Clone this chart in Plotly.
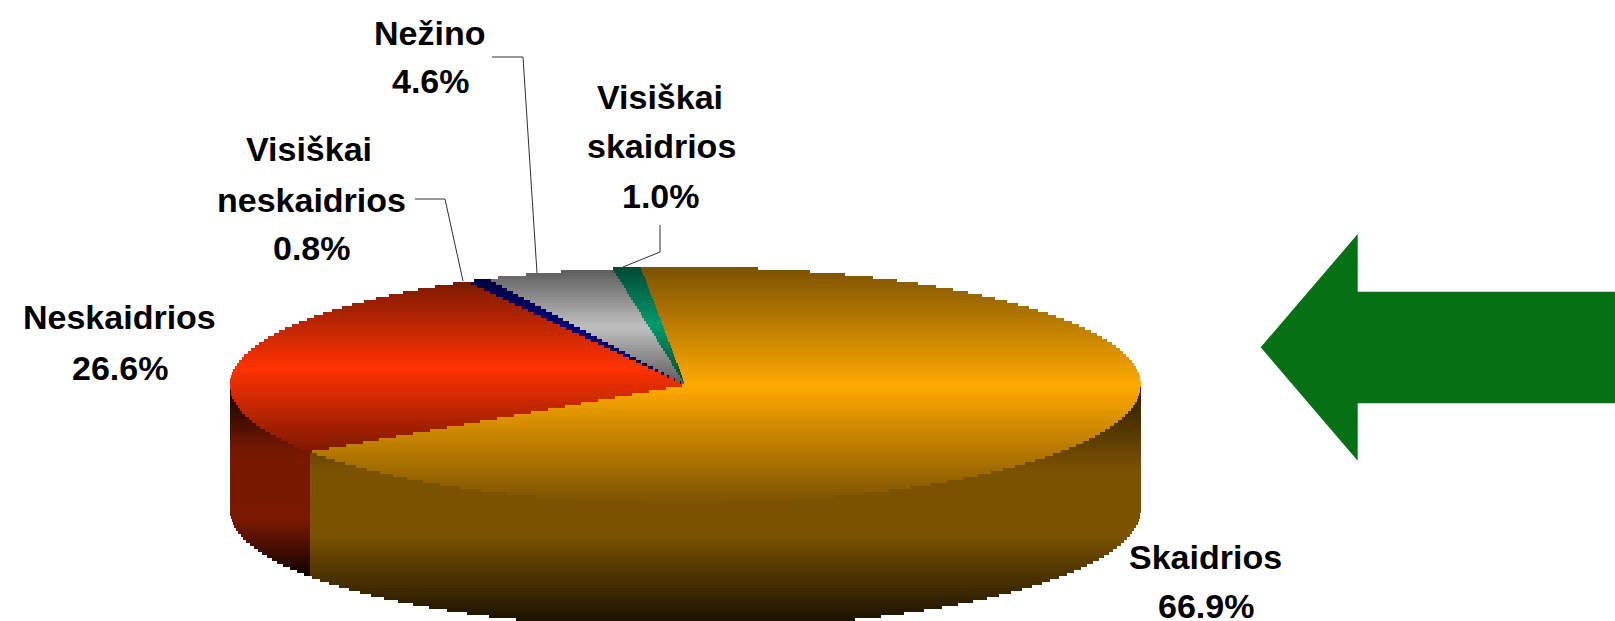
import numpy as np
import plotly.graph_objects as go

# ---- data ----
categories = ["Skaidrios", "Neskaidrios", "Visiškai neskaidrios", "Nežino", "Visiškai skaidrios"]
values = [66.9, 26.6, 0.8, 4.6, 1.0]
label_lines = [["Skaidrios"], ["Neskaidrios"], ["Visiškai", "neskaidrios"], ["Nežino"], ["Visiškai", "skaidrios"]]
slice_colors = [(255, 170, 0), (255, 51, 0), (0, 0, 128), (192, 192, 192), (0, 153, 107)]

# ---- layout of the tilted pie ----
W, H = 1615, 621
CX, CY, RX, RY, DEPTH = 685.3, 385.0, 455.4, 118.0, 125.0
START_DEG = -5.6
ROW = 3
EDGE_SHADE = 0.48
side_stops = {
    0: ([390, 470, 535, 627], [0.18, 0.48, 0.48, 0.08]),
    1: ([397, 450, 520, 578], [0.12, 0.46, 0.48, 0.04]),
}
label_pos = {
    0: [(1205, 557), (1206, 606)],
    1: [(119.5, 317), (119.5, 368)],
    2: [(309, 149), (311, 200), (312, 248)],
    3: [(429.5, 33), (430.5, 81)],
    4: [(660, 97), (661, 146), (661, 196)],
}
leaders = [
    [(415, 199), (445, 199), (463, 281)],
    [(492, 57), (523, 57), (537, 273)],
    [(660, 225), (660, 252), (623, 267)],
]
ARROW_COLOR = "#067014"
arrow_path = "M1260.7,347.3 L1357.7,234 L1357.7,291.7 L1615,291.7 L1615,403.3 L1357.7,403.3 L1357.7,460.7 Z"

# ---- slice boundaries come from the values ----
cum = np.concatenate([[0], np.cumsum(values)]) / np.sum(values) * 360.0


def slice_index(u, v):
    t = np.degrees(np.arctan2(u, -v))
    return np.clip(np.searchsorted(cum, (t - START_DEG) % 360.0, side="right") - 1, 0, len(values) - 1)


x_px = np.arange(int(CX - RX), int(CX + RX) + 2)
rows = np.arange(267, H, ROW)
top_rows = []
for y0 in rows:
    yc = y0 + ROW / 2
    u = (x_px + 0.5 - CX) / RX
    v = (yc - CY) / RY
    inside = u * u + v * v <= 1.0
    idx = slice_index(u, np.full_like(u, v))
    top_rows.append((y0, inside, idx))

# vertical extent of each slice on the top face
extent = {}
for y0, inside, idx in top_rows:
    for s in np.unique(idx[inside]):
        lo, hi = extent.get(int(s), (y0, y0 + ROW))
        extent[int(s)] = (min(lo, y0), max(hi, y0 + ROW))

polys = {}


def add_runs(mask, y0, color):
    if not mask.any():
        return
    m = np.concatenate([[0], mask.astype(int), [0]])
    d = np.diff(m)
    for a, b in zip(np.where(d == 1)[0], np.where(d == -1)[0]):
        x0, x1 = x_px[a], x_px[b - 1] + 1
        polys.setdefault(color, []).extend(
            [(x0, y0), (x1, y0), (x1, y0 + ROW), (x0, y0 + ROW), (x0, y0), (None, None)]
        )


def shade(rgb, f):
    return "rgb(%d,%d,%d)" % tuple(round(c * f) for c in rgb)


for y0, inside, idx in top_rows:
    yc = y0 + ROW / 2
    for s in range(len(values)):
        mask = inside & (idx == s)
        if mask.any():
            lo, hi = extent[s]
            tri = 1 - abs(2 * (yc - lo) / (hi - lo) - 1)
            f = EDGE_SHADE + (1 - EDGE_SHADE) * tri
            add_runs(mask, y0, shade(slice_colors[s], f))
    # outer wall
    u = (x_px + 0.5 - CX) / RX
    rim = np.sqrt(np.clip(1 - u * u, 0, None))
    edge_y = CY + RY * rim
    wall = (np.abs(u) <= 1) & (yc > edge_y) & (yc <= edge_y + DEPTH)
    wall_idx = slice_index(u, rim)
    for s, (ys, fs) in side_stops.items():
        add_runs(wall & (wall_idx == s), y0, shade(slice_colors[s], float(np.interp(yc, ys, fs))))

fig = go.Figure()
for color, pts in polys.items():
    fig.add_trace(go.Scatter(
        x=[p[0] for p in pts], y=[p[1] for p in pts], mode="none",
        fill="toself", fillcolor=color, hoverinfo="skip", showlegend=False,
    ))

for path in leaders:
    fig.add_trace(go.Scatter(
        x=[p[0] for p in path], y=[p[1] for p in path], mode="lines",
        line=dict(color="#303030", width=1), hoverinfo="skip", showlegend=False,
    ))

annotations = []
for s, lines in enumerate(label_lines):
    texts = lines + ["%.1f%%" % values[s]]
    for txt, (x, y) in zip(texts, label_pos[s]):
        annotations.append(dict(
            x=x, y=y, text="<b>%s</b>" % txt, showarrow=False, xanchor="center", yanchor="middle",
            font=dict(family="Liberation Sans", size=34, color="#000000"),
        ))

fig.update_layout(
    width=W, height=H, autosize=False, margin=dict(l=0, r=0, t=0, b=0, pad=0),
    paper_bgcolor="white", plot_bgcolor="white", showlegend=False,
    xaxis=dict(range=[0, W], visible=False, fixedrange=True),
    yaxis=dict(range=[H, 0], visible=False, fixedrange=True),
    annotations=annotations,
    shapes=[dict(type="path", path=arrow_path, fillcolor=ARROW_COLOR, line=dict(width=0), layer="above")],
)
fig.write_html("out.html", config={"displayModeBar": False},
               post_script="document.body.style.margin='0';document.body.style.overflow='hidden';")
